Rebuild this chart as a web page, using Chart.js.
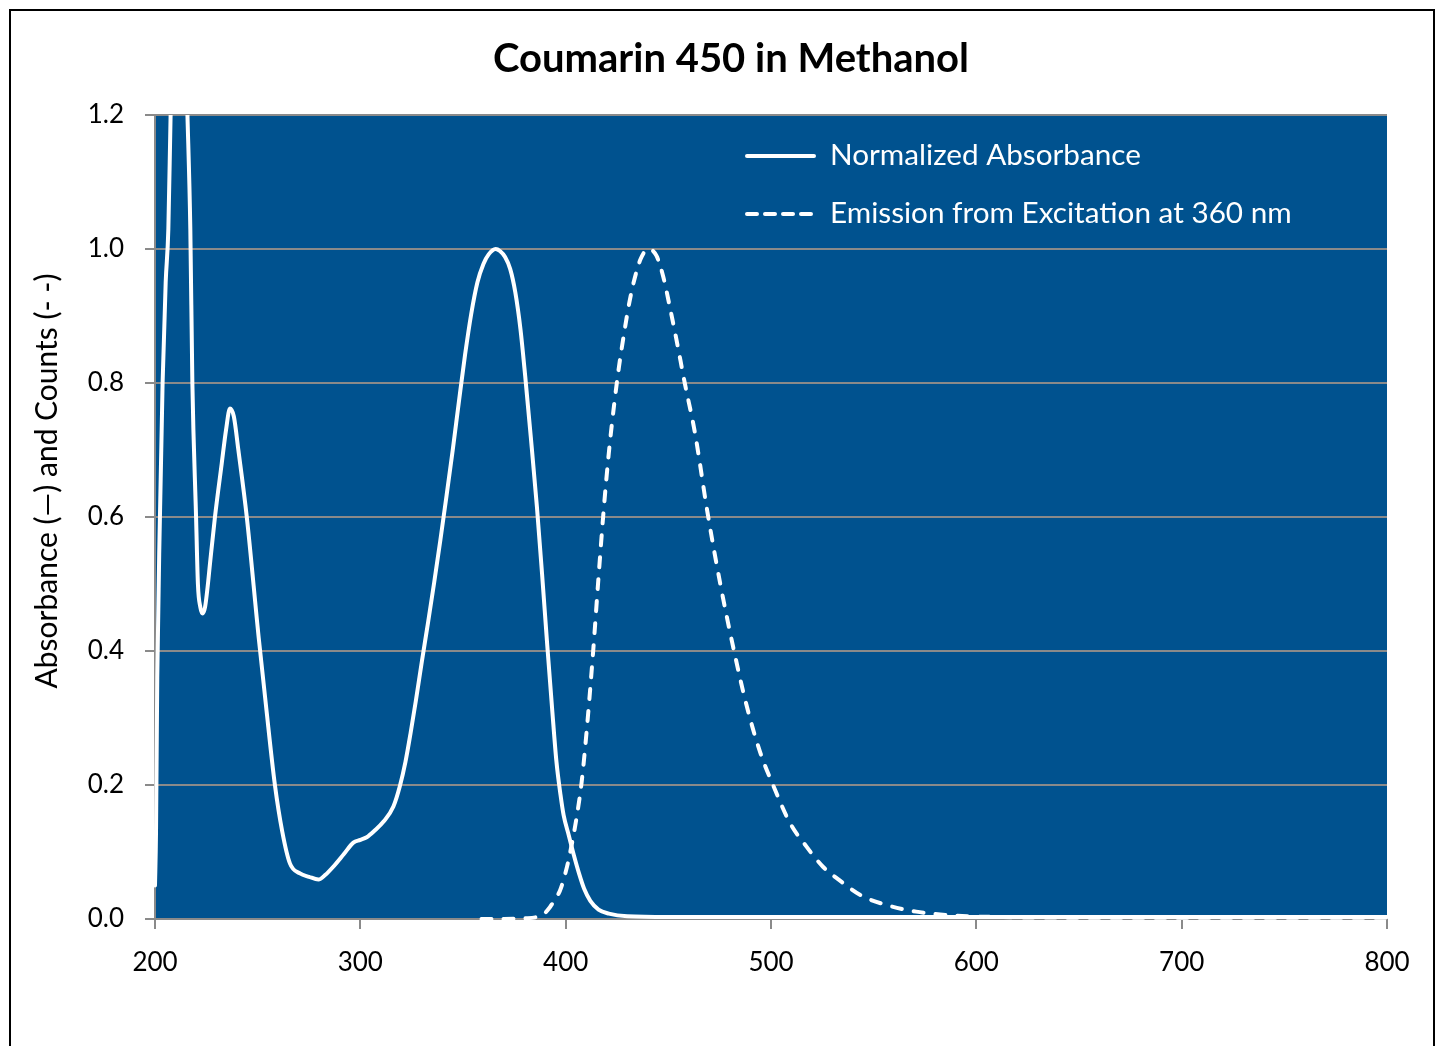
<!DOCTYPE html>
<html>
<head>
<meta charset="utf-8">
<script src="https://cdn.jsdelivr.net/npm/chart.js@4.4.1/dist/chart.umd.min.js"></script>
<style>
  html, body { margin: 0; padding: 0; background: #ffffff; }
  #wrap { position: relative; width: 1441px; height: 1046px; }
</style>
</head>
<body>
<div id="wrap"><canvas id="c" width="1441" height="1046"></canvas></div>
<script>
// ---------- data ----------
const chartTitle = 'Coumarin 450 in Methanol';
const yAxisTitle = 'Absorbance (\u2014) and Counts (- -)';
const seriesNames = ['Normalized Absorbance', 'Emission from Excitation at 360 nm'];

const xTicks = [200, 300, 400, 500, 600, 700, 800];
const yTicks = [0.0, 0.2, 0.4, 0.6, 0.8, 1.0, 1.2];

const absWavelength = [200, 200.5, 201.1, 202.4, 203.7, 205.2, 206.5, 207.6, 209.5, 211.5, 213.5, 215.8, 217.2, 218.2, 220.0, 220.9, 222.1, 223.2, 224.4, 225.6, 226.8, 229.2, 232.5, 234.6, 236.5, 238.4, 240.6, 244.7, 250.5, 254.0, 258.4, 262.0, 265.7, 270.6, 275.0, 279.6, 283.0, 286.8, 292.0, 296.6, 300.0, 303.1, 307.0, 311.2, 316.1, 319.3, 322.0, 324.5, 327.0, 330.0, 333.0, 336.0, 339.0, 342.0, 345.0, 348.0, 351.0, 354.0, 357.0, 360.0, 362.5, 365.9, 368.0, 370.5, 373.0, 375.5, 378.0, 380.3, 383.0, 386.0, 388.5, 391.0, 393.5, 395.5, 397.5, 399.0, 401.5, 404.0, 406.5, 409.0, 412.0, 416.0, 421.0, 430.0, 450, 500, 600, 700, 800];
const absValue = [0.05, 0.13, 0.36, 0.60, 0.80, 0.95, 1.03, 1.20, 1.45, 1.55, 1.45, 1.20, 1.03, 0.80, 0.60, 0.50, 0.465, 0.456, 0.466, 0.495, 0.531, 0.60, 0.68, 0.73, 0.762, 0.75, 0.70, 0.60, 0.42, 0.32, 0.20, 0.13, 0.083, 0.068, 0.063, 0.059, 0.066, 0.078, 0.097, 0.114, 0.118, 0.122, 0.132, 0.145, 0.168, 0.199, 0.235, 0.278, 0.325, 0.385, 0.443, 0.503, 0.566, 0.632, 0.70, 0.772, 0.842, 0.903, 0.950, 0.978, 0.992, 1.00, 0.997, 0.988, 0.97, 0.935, 0.88, 0.81, 0.72, 0.615, 0.515, 0.41, 0.31, 0.235, 0.185, 0.155, 0.125, 0.095, 0.068, 0.045, 0.027, 0.014, 0.008, 0.004, 0.003, 0.003, 0.003, 0.003, 0.003];

const emWavelength = [359, 370, 380, 386, 389.5, 392.4, 395, 397.3, 400, 402.1, 405.4, 407.8, 410.2, 413.4, 416, 418.5, 421, 423.5, 426, 428.5, 431, 433.5, 436.5, 440.2, 444.2, 447.5, 450.7, 454, 458, 463, 469, 475.5, 482, 488, 494.7, 501, 509.3, 517.3, 525.3, 533.3, 544, 557.3, 570.7, 589.3, 610, 650, 700, 750, 800];
const emValue = [0.0, 0.0, 0.001, 0.003, 0.008, 0.018, 0.03, 0.043, 0.07, 0.098, 0.153, 0.205, 0.28, 0.40, 0.51, 0.61, 0.695, 0.765, 0.825, 0.875, 0.92, 0.955, 0.985, 1.0, 0.99, 0.959, 0.914, 0.864, 0.80, 0.725, 0.608, 0.497, 0.40, 0.32, 0.249, 0.2, 0.143, 0.108, 0.078, 0.058, 0.035, 0.02, 0.011, 0.005, 0.003, 0.002, 0.002, 0.002, 0.002];

// ---------- styling ----------
const plotBg = '#00528f';
const gridGray = '#8a8a8a';
const fontFamily = 'Lato, "Open Sans", "DejaVu Sans", sans-serif';

const absPoints = absWavelength.map((x, i) => ({ x: x, y: absValue[i] }));
const emPoints = emWavelength.map((x, i) => ({ x: x, y: emValue[i] }));

const framePlugin = {
  id: 'frame',
  beforeDraw(chart) {
    const { ctx, chartArea: a } = chart;
    ctx.save();
    ctx.fillStyle = '#ffffff';
    ctx.fillRect(0, 0, chart.width, chart.height);
    ctx.fillStyle = plotBg;
    ctx.fillRect(a.left, a.top, a.right - a.left, a.bottom - a.top);
    ctx.strokeStyle = '#000000';
    ctx.lineWidth = 2;
    ctx.strokeRect(10, 10, 1424, 1100);
    ctx.restore();
  }
};

const overlayPlugin = {
  id: 'overlay',
  afterDraw(chart) {
    const ctx = chart.ctx;
    ctx.save();
    // y axis title
    ctx.translate(57, 481);
    ctx.rotate(-Math.PI / 2);
    ctx.fillStyle = '#000000';
    ctx.font = '30px ' + fontFamily;
    ctx.textAlign = 'center';
    ctx.textBaseline = 'alphabetic';
    ctx.fillText(yAxisTitle, 0, 0);
    ctx.restore();

    // legend inside plot area
    chart.data.datasets.forEach((ds, i) => {
      const y = 156 + i * 58;
      ctx.save();
      ctx.strokeStyle = ds.borderColor;
      ctx.lineWidth = ds.borderWidth;
      ctx.lineCap = 'round';
      ctx.setLineDash(ds.borderDash ? [10, 8] : []);
      ctx.beginPath();
      ctx.moveTo(747, y);
      ctx.lineTo(814, y);
      ctx.stroke();
      ctx.setLineDash([]);
      ctx.fillStyle = '#ffffff';
      ctx.font = '29.7px ' + fontFamily;
      ctx.textAlign = 'left';
      ctx.textBaseline = 'middle';
      ctx.fillText(ds.label, 830, y - 1);
      ctx.restore();
    });
  }
};

function build() {
  Chart.defaults.font.family = fontFamily;
  new Chart(document.getElementById('c'), {
    type: 'line',
    data: {
      datasets: [
        {
          label: seriesNames[0],
          data: absPoints,
          borderColor: '#ffffff',
          borderWidth: 4,
          pointRadius: 0,
          fill: false,
          cubicInterpolationMode: 'monotone',
          borderCapStyle: 'round',
          borderJoinStyle: 'round',
          clip: { left: 2, top: 0, right: 2, bottom: 4 }
        },
        {
          label: seriesNames[1],
          data: emPoints,
          borderColor: '#ffffff',
          borderWidth: 4,
          borderDash: [10, 12],
          pointRadius: 0,
          fill: false,
          cubicInterpolationMode: 'monotone',
          borderCapStyle: 'round',
          borderJoinStyle: 'round',
          clip: { left: 2, top: 0, right: 2, bottom: 4 }
        }
      ]
    },
    options: {
      responsive: false,
      animation: false,
      devicePixelRatio: 1,
      layout: { padding: { left: 75, right: 54, top: 0, bottom: 0 } },
      plugins: {
        legend: { display: false },
        tooltip: { enabled: false },
        title: {
          display: true,
          text: chartTitle,
          color: '#000000',
          font: { family: fontFamily, size: 40, weight: 'bold', lineHeight: 1.2 },
          padding: { top: 35.4, bottom: 31.6 }
        }
      },
      scales: {
        x: {
          type: 'linear',
          min: 200,
          max: 800,
          afterFit(s) { s.height = 127; },
          afterBuildTicks(s) { s.ticks = xTicks.map(v => ({ value: v })); },
          ticks: { color: '#000000', font: { size: 26 }, padding: 18, maxRotation: 0, autoSkip: false,
                   callback: (v) => String(v) },
          grid: { drawOnChartArea: false, drawTicks: true, tickLength: 10, color: gridGray, lineWidth: 2 },
          border: { display: true, color: gridGray, width: 2 }
        },
        y: {
          type: 'linear',
          min: 0,
          max: 1.2,
          afterFit(s) { s.width = 80; },
          afterBuildTicks(s) { s.ticks = yTicks.map(v => ({ value: v })); },
          ticks: { color: '#000000', font: { size: 26 }, padding: 21, autoSkip: false,
                   callback: (v) => Number(v).toFixed(1) },
          grid: { drawTicks: true, tickLength: 10, color: gridGray, lineWidth: 2 },
          border: { display: true, color: gridGray, width: 2 }
        }
      }
    },
    plugins: [framePlugin, overlayPlugin]
  });
}

if (document.fonts && document.fonts.load) {
  Promise.all([
    document.fonts.load('26px Lato'),
    document.fonts.load('bold 40px Lato')
  ]).then(build, build);
} else {
  build();
}
</script>
</body>
</html>
